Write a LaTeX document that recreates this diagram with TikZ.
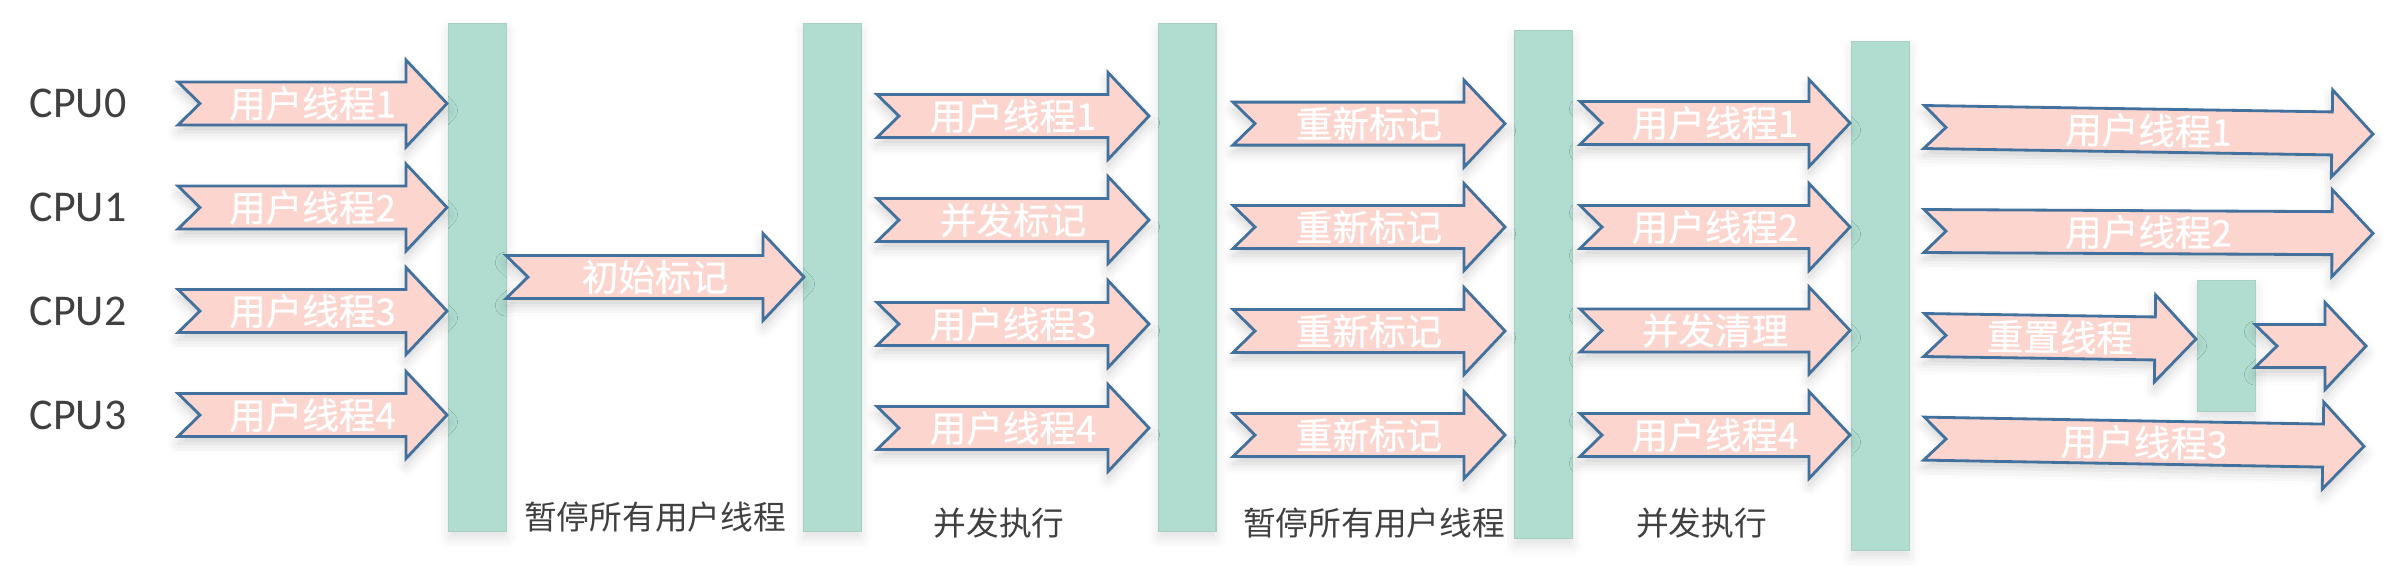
\documentclass[tikz,border=0pt]{standalone}
\usepackage{fontspec}
\setmainfont{Carlito}
\newfontfamily\cjk{Noto Sans CJK SC}
\newfontfamily\cjkarrow[FakeBold=0.7]{Noto Sans CJK SC}
\usepackage{xcolor}
\definecolor{ThreadPink}{RGB}{252,213,206}
\definecolor{ThreadBlue}{RGB}{65,113,156}
\definecolor{PauseGreen}{RGB}{176,221,208}
\definecolor{LabelGray}{RGB}{64,64,64}
\usepackage{tikz}
\usetikzlibrary{positioning, calc, shadows.blur}

% block arrow: [tilt] name, tail x, tip x, y, text
\newcommand{\runarrow}[6][0]{%
    \begin{scope}[rotate around={#1:(#3,#5)}]
        \draw[threadarrow] (#3,#5-21.5) -- (#4-41,#5-21.5) -- (#4-41,#5-43.5) -- (#4,#5)
            -- (#4-41,#5+43.5) -- (#4-41,#5+21.5) -- (#3,#5+21.5) -- (#3+22,#5) -- cycle;
        \node[threadtext, rotate=#1] (#2) at ({(#3+#4)/2},#5) {#6};
    \end{scope}
}

\begin{document}
\begin{tikzpicture}[
        x=0.01cm, y=-0.01cm,
        threadarrow/.style={draw=ThreadBlue, line width=0.8pt, fill=ThreadPink, line join=miter,
            blur shadow={shadow xshift=0pt, shadow yshift=-2pt, shadow blur radius=3pt, shadow opacity=18}},
        threadtext/.style={text=white, font=\cjkarrow\fontsize{10.4}{12}\selectfont, inner sep=0pt},
        pause/.style={rectangle, fill=PauseGreen, draw=PauseGreen!85!gray, line width=0.3pt, minimum width=0.575cm, inner sep=0pt,
            blur shadow={shadow xshift=0pt, shadow yshift=-2pt, shadow blur radius=3pt, shadow opacity=12}},
        cpu/.style={text=LabelGray, font=\fontsize{12.5}{14}\selectfont, anchor=west, inner sep=0pt},
        phase/.style={text=LabelGray, font=\cjk\fontsize{9.3}{11}\selectfont, inner sep=0pt}
    ]
        \useasboundingbox (0,0) rectangle (2389,566);

        % stop-the-world bars
        \node[pause, minimum height=5.075cm] (bar1) at (477.5,277.25) {};
        \node[pause, minimum height=5.075cm] (bar2) at (832.25,277.25) {};
        \node[pause, minimum height=5.075cm] (bar3) at (1187.2,277.25) {};
        \node[pause, minimum height=5.073cm] (bar4) at (1543.5,284.35) {};
        \node[pause, minimum height=5.085cm] (bar5) at (1880.25,296.25) {};
        \node[pause, minimum height=1.31cm] (bar6) at (2226.5,346) {};

        % cpus
        \node[cpu] (cpu0) at (29,103.5) {CPU0};
        \node[cpu] (cpu1) at (29,207.5) {CPU1};
        \node[cpu] (cpu2) at (29,311) {CPU2};
        \node[cpu] (cpu3) at (29,415) {CPU3};

        % running
        \runarrow{t01}{178}{447}{103.5}{用户线程1}
        \runarrow{t02}{178}{447}{207.5}{用户线程2}
        \runarrow{t03}{178}{447}{311}{用户线程3}
        \runarrow{t04}{178}{447}{415}{用户线程4}

        % initial mark
        \runarrow{init}{506}{804}{277}{初始标记}

        % concurrent mark
        \runarrow{t11}{877}{1149}{116}{用户线程1}
        \runarrow{cmark}{877}{1149}{220}{并发标记}
        \runarrow{t13}{877}{1149}{324}{用户线程3}
        \runarrow{t14}{877}{1149}{428}{用户线程4}

        % remark
        \runarrow{rm1}{1233}{1505}{123.6}{重新标记}
        \runarrow{rm2}{1233}{1505}{227}{重新标记}
        \runarrow{rm3}{1233}{1505}{331}{重新标记}
        \runarrow{rm4}{1233}{1505}{435}{重新标记}

        % concurrent sweep
        \runarrow{t21}{1580}{1850}{123}{用户线程1}
        \runarrow{t22}{1580}{1850}{227}{用户线程2}
        \runarrow{sweep}{1580}{1850}{330.5}{并发清理}
        \runarrow{t24}{1580}{1850}{435}{用户线程4}

        % reset
        \runarrow[-0.9]{t31}{1924}{2373}{127}{用户线程1}
        \runarrow[-0.3]{t32}{1924}{2373}{231}{用户线程2}
        \runarrow[-0.85]{reset}{1924}{2196}{335}{重置线程}
        \runarrow{t33b}{2255}{2366}{346}{}
        \runarrow[-1.0]{t33}{1924}{2364}{438.6}{用户线程3}

        % phase labels
        \node[phase] (ph1) at (655,517) {暂停所有用户线程};
        \node[phase] (ph2) at (999,523) {并发执行};
        \node[phase] (ph3) at (1374,523) {暂停所有用户线程};
        \node[phase] (ph4) at (1701.5,523) {并发执行};
\end{tikzpicture}
\end{document}
